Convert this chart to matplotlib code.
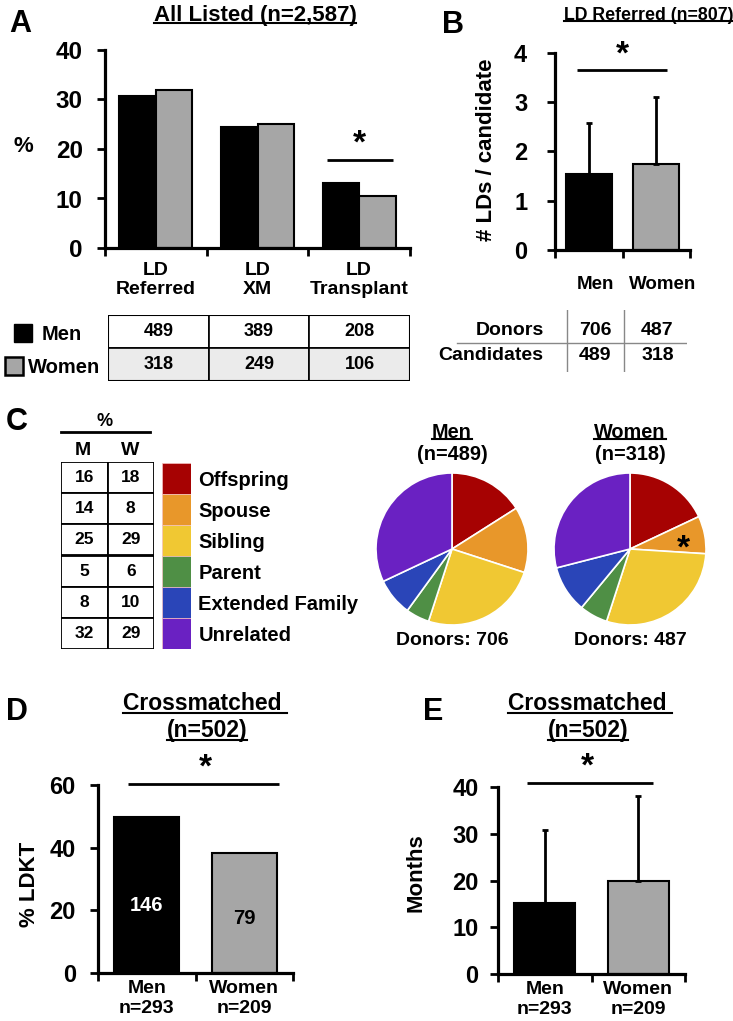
import numpy as np
import matplotlib
matplotlib.use("Agg")
import matplotlib.pyplot as plt
from matplotlib.patches import Rectangle
from matplotlib.lines import Line2D

plt.rcParams['font.family'] = ['Liberation Sans', 'DejaVu Sans']
plt.rcParams['font.weight'] = 'bold'
plt.rcParams['axes.labelweight'] = 'bold'

# ---- data ----
# Panel A: % of all listed candidates
stages = ["LD\nReferred", "LD\nXM", "LD\nTransplant"]
pct_men = [30.7, 24.5, 13.1]
pct_women = [32.0, 25.1, 10.6]
n_men = [489, 389, 208]
n_women = [318, 249, 106]

# Panel B: living donors per candidate
sexes = ["Men", "Women"]
ld_mean = [1.54, 1.75]
ld_sd = [1.04, 1.36]
donors = [706, 487]
candidates = [489, 318]

# Panel C: donor relationship (%)
relations = ["Offspring", "Spouse", "Sibling", "Parent", "Extended Family", "Unrelated"]
rel_men = [16, 14, 25, 5, 8, 32]
rel_women = [18, 8, 29, 6, 10, 29]
rel_colors = ["#a60202", "#e8972a", "#f0c833", "#4f8f45", "#2a45b8", "#6a21c2"]
pie_n = [489, 318]

# Panel D: % LDKT among crossmatched
ldkt_pct = [49.8, 38.2]
ldkt_n = [146, 79]
xm_n = [293, 209]

# Panel E: months
months_mean = [15.2, 19.9]
months_sd = [15.6, 18.2]

W, H = 733, 1021
fig = plt.figure(figsize=(W / 100, H / 100), dpi=100)
BLACK, GRAY = "black", "#a6a6a6"


def px_axes(l, t, r, b):
    return fig.add_axes([l / W, 1 - b / H, (r - l) / W, (b - t) / H])


def fig_text(x, y, s, **kw):
    return fig.text(x / W, 1 - y / H, s, **kw)


def style_axes(ax, nbins, ymax, tick_fs, pad):
    for s in ["top", "right"]:
        ax.spines[s].set_visible(False)
    for s in ["left", "bottom"]:
        ax.spines[s].set_linewidth(2.3)
    ax.set_ylim(0, ymax)
    ax.set_yticks(np.linspace(0, ymax, nbins + 1))
    ax.tick_params(axis='y', direction='out', length=6, width=2, labelsize=tick_fs, pad=pad)
    ax.tick_params(axis='x', which='major', direction='out', length=6, width=2)
    ax.tick_params(axis='x', which='minor', length=0)


def sig(ax, x0, x1, y, xs, fs=24):
    ax.plot([x0, x1], [y, y], color='black', lw=2, clip_on=False, solid_capstyle='butt')
    ax.text(xs, y, "*", ha='center', va='bottom', fontsize=fs, clip_on=False)


underline = []

# ---- Panel A ----
axA = px_axes(105, 50, 410, 248)
xa = np.arange(len(stages))
bw = 0.36
axA.bar(xa - bw / 2, pct_men, bw, color=BLACK, edgecolor='black', lw=1.5)
axA.bar(xa + bw / 2, pct_women, bw, color=GRAY, edgecolor='black', lw=1.5)
axA.set_xlim(-0.5, len(stages) - 0.5)
style_axes(axA, 4, 40, 17.5, 10)
axA.set_xticks(np.arange(-0.5, len(stages)), [""] * (len(stages) + 1))
axA.set_xticks(xa, stages, minor=True)
axA.tick_params(axis='x', which='minor', labelsize=14, pad=10)
sig(axA, 1.68, 2.33, 17.8, 2.0)
fig_text(23, 147, "%", fontsize=16, ha='center', va='center')
underline.append(fig_text(255, 15, "All Listed (n=2,587)", fontsize=16, ha='center', va='center'))
fig_text(20, 24, "A", fontsize=22, ha='center', va='center')

# table A
tA = px_axes(108, 315, 410, 381)
tA.set_xlim(-0.5, len(stages) - 0.5)
tA.set_ylim(2, 0)
tA.axis('off')
for r, (vals, fc) in enumerate([(n_men, 'white'), (n_women, '#ebebeb')]):
    for c, v in enumerate(vals):
        tA.add_patch(Rectangle((c - 0.5, r), 1, 1, facecolor=fc, edgecolor='black', lw=1.2))
        tA.text(c, r + 0.5, str(v), ha='center', va='center', fontsize=13)
tA.add_patch(Rectangle((-0.5, 0), 3, 2, facecolor='none', edgecolor='black', lw=1.5))
# legend swatches
lg = px_axes(0, 315, 108, 381)
lg.set_xlim(0, 108)
lg.set_ylim(66, 0)
lg.axis('off')
lg.add_patch(Rectangle((14, 9), 18, 18, facecolor=BLACK, edgecolor='black'))
lg.text(42, 19, "Men", fontsize=14.5, va='center')
lg.add_patch(Rectangle((5, 42), 18, 18, facecolor=GRAY, edgecolor='black', lw=1.8))
lg.text(28, 52, "Women", fontsize=14.5, va='center')

# ---- Panel B ----
axB = px_axes(555, 53, 690, 250)
xb = np.arange(len(sexes))
axB.bar(xb, ld_mean, 0.68, color=[BLACK, GRAY], edgecolor='black', lw=1.5,
        yerr=[np.zeros(len(ld_sd)), ld_sd], error_kw=dict(lw=2, capsize=2, capthick=2, ecolor='black'))
axB.set_xlim(-0.5, len(sexes) - 0.5)
style_axes(axB, 4, 4, 17, 14)
axB.set_xticks(np.arange(-0.5, len(sexes)), [""] * (len(sexes) + 1))
axB.set_xticks(xb + 0.1, sexes, minor=True)
axB.tick_params(axis='x', which='minor', labelsize=13.5, pad=19)
axB.set_ylabel("# LDs / candidate", fontsize=16)
axB.yaxis.set_label_coords(-0.43, 0.51)
sig(axB, -0.17, 1.16, 3.65, 0.5)
underline.append(fig_text(649, 15, "LD Referred (n=807)", fontsize=12.8, ha='center', va='center'))
fig_text(453, 25, "B", fontsize=22, ha='center', va='center')

tB = px_axes(440, 310, 687, 372)
tB.set_xlim(0, 1)
tB.set_ylim(1, 0)
tB.axis('off')
tB.plot([0.07, 1], [0.53, 0.53], color='#888888', lw=1)
for xv in [0.515, 0.745]:
    tB.plot([xv, xv], [0, 1], color='#888888', lw=1)
for r, (lab, vals) in enumerate([("Donors", donors), ("Candidates", candidates)]):
    yv = 0.33 + r * 0.4
    tB.text(0.42, yv, lab, ha='right', va='center', fontsize=14)
    for xv, v in zip([0.628, 0.88], vals):
        tB.text(xv, yv, str(v), ha='center', va='center', fontsize=14)

# ---- Panel C ----
fig_text(17, 422, "C", fontsize=22, ha='center', va='center')
tC = px_axes(61, 462, 154, 649)
tC.set_xlim(0, 2)
tC.set_ylim(len(relations), 0)
tC.axis('off')
for r in range(len(relations)):
    for c, v in enumerate([rel_men[r], rel_women[r]]):
        tC.add_patch(Rectangle((c, r), 1, 1, facecolor='white', edgecolor='black', lw=1.3))
        tC.text(c + 0.5, r + 0.5, str(v), ha='center', va='center', fontsize=12.5)
fig_text(105, 421, "%", fontsize=13, ha='center', va='center')
fig.add_artist(Line2D([61 / W, 150 / W], [1 - 432 / H] * 2, color='black', lw=2))
fig_text(83, 450, "M", fontsize=14, ha='center', va='center')
fig_text(130, 450, "W", fontsize=14, ha='center', va='center')

cC = px_axes(162, 463, 191, 649)
cC.barh(np.arange(len(relations)), 1, height=1, color=rel_colors, edgecolor='#f5c0c0', lw=0.5)
cC.set_xlim(0, 1)
cC.set_ylim(len(relations) - 0.5, -0.5)
cC.axis('off')
for i, lab in enumerate(relations):
    cC.text(1.25, i + 0.05, lab, ha='left', va='center', fontsize=14.5, clip_on=False)

pie_sets = [("Men", rel_men, donors[0], 452), ("Women", rel_women, donors[1], 630)]
pie_axes = []
for (lab, vals, nd, cx), n in zip(pie_sets, pie_n):
    axp = px_axes(cx - 76, 549 - 76, cx + 76, 549 + 76)
    axp.pie(vals, colors=rel_colors, startangle=90, counterclock=False,
            wedgeprops=dict(edgecolor='white', linewidth=1.2))
    axp.set_xlim(-1, 1)
    axp.set_ylim(-1, 1)
    axp.set_aspect('equal')
    underline.append(fig_text(cx, 432, lab, fontsize=14.3, ha='center', va='center'))
    fig_text(cx, 455, "(n=%d)" % n, fontsize=14.3, ha='center', va='center')
    fig_text(cx, 640, "Donors: %d" % nd, fontsize=14, ha='center', va='center')
    pie_axes.append(axp)
# star on the women's spouse slice
wv = np.array(rel_women, float)
mid = 90 - 360 * (wv[0] + wv[1] / 2) / wv.sum()
pie_axes[1].text(0.72 * np.cos(np.radians(mid)), 0.72 * np.sin(np.radians(mid)) - 0.14, "*",
                 ha='center', va='center', fontsize=24)

# ---- Panel D ----
axD = px_axes(98, 785, 293, 973)
xd = np.arange(len(sexes))
axD.bar(xd, ldkt_pct, 0.67, color=[BLACK, GRAY], edgecolor='black', lw=1.5)
axD.set_xlim(-0.5, len(sexes) - 0.5)
style_axes(axD, 3, 60, 17, 10)
axD.set_xticks(np.arange(-0.5, len(sexes)), [""] * (len(sexes) + 1))
axD.set_xticks(xd, ["%s\nn=%d" % (s, n) for s, n in zip(sexes, xm_n)], minor=True)
axD.tick_params(axis='x', which='minor', labelsize=14, pad=5)
axD.set_ylabel("% LDKT", fontsize=16)
axD.yaxis.set_label_coords(-0.30, 0.47)
for i, (v, c) in enumerate(zip(ldkt_n, ['white', 'black'])):
    axD.text(i, [21.5, 17.5][i], str(v), ha='center', va='center', color=c, fontsize=14.5)
sig(axD, -0.19, 1.36, 60.3, 0.6)
fig_text(17, 712, "D", fontsize=22, ha='center', va='center')
underline.append(fig_text(205, 703, "Crossmatched ", fontsize=16.5, ha='center', va='center'))
underline.append(fig_text(207, 730, "(n=502)", fontsize=16.5, ha='center', va='center'))

# ---- Panel E ----
axE = px_axes(498, 787, 685, 974)
axE.bar(xd, months_mean, 0.65, color=[BLACK, GRAY], edgecolor='black', lw=1.5,
        yerr=[np.zeros(len(months_sd)), months_sd], error_kw=dict(lw=2, capsize=2, capthick=2, ecolor='black'))
axE.set_xlim(-0.5, len(sexes) - 0.5)
style_axes(axE, 4, 40, 17, 8)
axE.set_xticks(np.arange(-0.5, len(sexes)), [""] * (len(sexes) + 1))
axE.set_xticks(xd, ["%s\nn=%d" % (s, n) for s, n in zip(sexes, xm_n)], minor=True)
axE.tick_params(axis='x', which='minor', labelsize=14, pad=5)
axE.set_ylabel("Months", fontsize=16)
axE.yaxis.set_label_coords(-0.38, 0.54)
sig(axE, -0.19, 1.16, 40.9, 0.46)
fig_text(433, 712, "E", fontsize=22, ha='center', va='center')
underline.append(fig_text(590, 703, "Crossmatched ", fontsize=16.5, ha='center', va='center'))
underline.append(fig_text(588, 730, "(n=502)", fontsize=16.5, ha='center', va='center'))

# underline titles
fig.canvas.draw()
rend = fig.canvas.get_renderer()
for t in underline:
    bb = t.get_window_extent(rend)
    yl = (bb.y0 + 2) / H
    fig.add_artist(Line2D([bb.x0 / W, bb.x1 / W], [yl, yl], color='black', lw=1.5))

fig.savefig("out.png", dpi=100)
